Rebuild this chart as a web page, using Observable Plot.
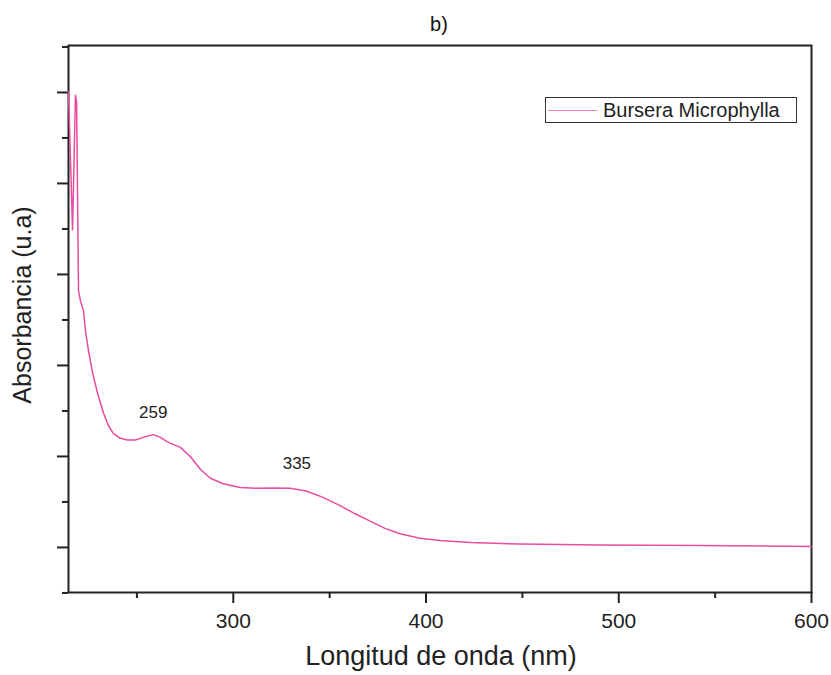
<!DOCTYPE html>
<html>
<head>
<meta charset="utf-8">
<script src="https://cdn.jsdelivr.net/npm/d3@7"></script>
<script src="https://cdn.jsdelivr.net/npm/@observablehq/plot@0.6"></script>
<style>
  body { margin: 0; background: #fff; font-family: "Liberation Sans", Arial, sans-serif; }
  #wrap { position: relative; width: 831px; height: 675px; }
  #legend {
    position: absolute; left: 545px; top: 97px; width: 252px; height: 26px;
    border: 1px solid #333; box-sizing: border-box; display: flex; align-items: center;
    font-size: 20px; color: #222; background: #fff; white-space: nowrap;
  }
  #legend .sw { display: inline-block; width: 49px; height: 0; border-top: 1.6px solid #ee7fb8; margin: 0 6px 0 2px; }
</style>
</head>
<body>
<div id="wrap"></div>
<script>
// Wavelength (nm) and absorbance (arbitrary units)
const wavelength = [214.5, 216.6, 218.1, 218.7, 219.7, 220.7, 222.3, 223.3, 224.9, 226.9, 229.5, 232.6, 235.2, 237.8, 241.4, 245.1, 249.2, 253.4, 258.5, 262.2, 265.8, 272.5, 277.7, 282.9, 288.1, 294.8, 303.6, 312.4, 320.7, 329.5, 337.8, 346.6, 355.4, 363.2, 371.0, 378.7, 386.5, 396.9, 407.2, 422.8, 448.7, 490.0, 542.0, 600.0];
const absorbance = [5.01, 3.49, 4.97, 4.90, 2.82, 2.71, 2.60, 2.38, 2.16, 1.93, 1.70, 1.48, 1.34, 1.25, 1.20, 1.18, 1.18, 1.21, 1.24, 1.21, 1.16, 1.10, 1.00, 0.86, 0.76, 0.70, 0.66, 0.65, 0.654, 0.65, 0.62, 0.55, 0.46, 0.37, 0.29, 0.21, 0.15, 0.10, 0.077, 0.055, 0.038, 0.027, 0.022, 0.011];
const peakLabels = ["259", "335"];
const peakX = [258.5, 333];
const peakY = [1.48, 0.92];
const xMajorTicks = [300, 400, 500, 600];
const xMinorTicks = [250, 350, 450, 550];
const yMajorTicks = [0, 1, 2, 3, 4, 5];
const yMinorTicks = [-0.5, 0.5, 1.5, 2.5, 3.5, 4.5, 5.5];
const seriesName = "Bursera Microphylla";

const data = wavelength.map((w, i) => ({w, a: absorbance[i]}));
const peaks = peakLabels.map((t, i) => ({t, x: peakX[i], y: peakY[i]}));
const color = "#e94b9f";

const chart = Plot.plot({
  width: 831,
  height: 675,
  marginLeft: 68,
  marginRight: 20,
  marginTop: 45,
  marginBottom: 83,
  style: {fontFamily: "Liberation Sans, Arial, sans-serif", background: "#fff", color: "#222"},
  x: {domain: [214.5, 600]},
  y: {domain: [-0.495, 5.516]},
  marks: [
    Plot.axisX({ticks: xMajorTicks, tickSize: 11, tickPadding: 10, fontSize: 21, label: null, stroke: "#222", strokeWidth: 2}),
    Plot.axisX({ticks: xMinorTicks, tickSize: 6, text: null, label: null, stroke: "#222", strokeWidth: 2}),
    Plot.axisY({ticks: yMajorTicks, tickSize: 11, text: null, label: null, stroke: "#222", strokeWidth: 2}),
    Plot.axisY({ticks: yMinorTicks, tickSize: 6, text: null, label: null, stroke: "#222", strokeWidth: 2}),
    Plot.frame({stroke: "#222", strokeWidth: 2}),
    Plot.line(data, {x: "w", y: "a", stroke: color, strokeWidth: 1.5, curve: "linear"}),
    Plot.text(peaks, {x: "x", y: "y", text: "t", fontSize: 17, fill: "#222"}),
    Plot.text(["b)"], {frameAnchor: "top", dy: -29, dx: -1, fontSize: 20, fill: "#111"}),
    Plot.text(["Longitud de onda (nm)"], {frameAnchor: "bottom", dy: 72, dx: 1, fontSize: 27, fill: "#222"}),
    Plot.text(["Absorbancia (u.a)"], {frameAnchor: "left", textAnchor: "middle", dx: -46, dy: -14, rotate: -90, fontSize: 25, fill: "#222"})
  ]
});

const wrap = document.getElementById("wrap");
wrap.appendChild(chart);
const legend = document.createElement("div");
legend.id = "legend";
legend.innerHTML = `<span class="sw"></span><span>${seriesName}</span>`;
wrap.appendChild(legend);
</script>
</body>
</html>
